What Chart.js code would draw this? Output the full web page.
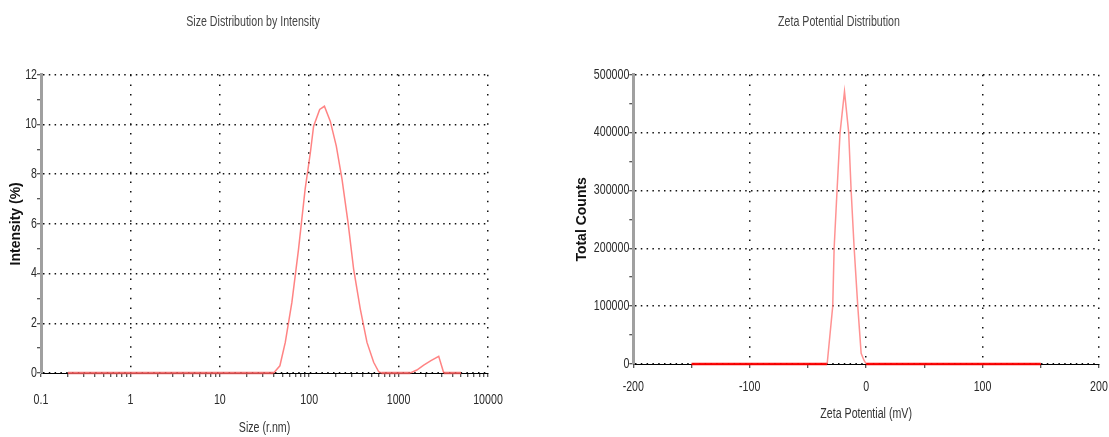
<!DOCTYPE html>
<html><head><meta charset="utf-8">
<script src="https://cdn.jsdelivr.net/npm/chart.js@4"></script>
<style>
html,body{margin:0;padding:0;background:#fff;width:1109px;height:437px;overflow:hidden}
canvas{position:absolute;top:0}
#c1{left:0}
#c2{left:569px}
</style></head><body>
<canvas id="c1" width="506" height="437"></canvas>
<canvas id="c2" width="540" height="437"></canvas>
<script>
// ---- Size distribution data ----
const sizeNm       = [0.2, 40, 47, 54, 64, 76, 90, 103, 112, 131, 148, 172, 201, 233, 272, 314, 373, 443, 526, 599, 640, 1350, 1600, 1910, 2300, 2810, 3200, 5000];
const intensityPct = [0, 0, 0.29, 1.23, 2.84, 4.98, 7.39, 8.86, 9.93, 10.6, 10.73, 10.13, 9.13, 7.79, 6.05, 4.18, 2.57, 1.23, 0.43, 0.05, 0, 0, 0.12, 0.32, 0.5, 0.67, 0, 0];
const sizeDecades    = [0.1, 1, 10, 100, 1000, 10000];
const sizeTickLabels = ['0.1', '1', '10', '100', '1000', '10000'];
const intensityTicks = [0, 2, 4, 6, 8, 10, 12];

// ---- Zeta potential data ----
const zetaMv     = [-150, -33.5, -28.7, -27.5, -25, -22.4, -18.6, -15, -12.9, -10.3, -7.2, -4.3, -2, 0, 150];
const zetaCounts = [0, 0, 100000, 200000, 300000, 400000, 471000, 400000, 300000, 200000, 100000, 18500, 7000, 0, 0];
const zetaTicks      = [-200, -100, 0, 100, 200];
const zetaTickLabels = ['-200', '-100', '0', '100', '200'];
const countTicks     = [0, 100000, 200000, 300000, 400000, 500000];

const ARIAL = "'Liberation Sans',Arial,sans-serif";
const GRID = '#111';
const SQUEEZE = 0.76; // horizontal condensing of non-bold text (narrow face look)

// Condense non-bold text horizontally on a canvas (emulates a narrow font face)
function condense(canvas, s) {
  const ctx = canvas.getContext('2d');
  const pf = CanvasRenderingContext2D.prototype;
  const narrow = c => !/bold|700/.test(c.font);
  ctx.fillText = function (t, x, y, mw) {
    if (!narrow(this)) return mw === undefined ? pf.fillText.call(this, t, x, y) : pf.fillText.call(this, t, x, y, mw);
    this.save();
    this.translate(x, y);
    this.scale(s, 1);
    if (mw === undefined) pf.fillText.call(this, t, 0, 0); else pf.fillText.call(this, t, 0, 0, mw / s);
    this.restore();
  };
  ctx.measureText = function (t) {
    const m = pf.measureText.call(this, t);
    if (!narrow(this)) return m;
    return {
      width: m.width * s,
      actualBoundingBoxAscent: m.actualBoundingBoxAscent,
      actualBoundingBoxDescent: m.actualBoundingBoxDescent,
      actualBoundingBoxLeft: m.actualBoundingBoxLeft * s,
      actualBoundingBoxRight: m.actualBoundingBoxRight * s
    };
  };
}

function near(a, b) { return Math.abs(a - b) < 1e-9 * Math.max(1, Math.abs(b)); }

// Centre the title over the whole canvas
const titleCentre = {
  id: 'titleCentre',
  afterLayout(chart) {
    if (chart.titleBlock) { chart.titleBlock.left = 0; chart.titleBlock.right = chart.width; }
  }
};

function noEdgePadding(s) { s.paddingLeft = 0; s.paddingRight = 0; s.paddingTop = 0; s.paddingBottom = 0; }

function lineDataset(xs, ys, baseColor, curveColor) {
  return {
    data: xs.map((x, i) => ({x: x, y: ys[i]})),
    borderColor: curveColor,
    borderWidth: 1.5,
    pointRadius: 0,
    tension: 0,
    clip: false,
    segment: {
      borderColor: c => (c.p0.parsed.y === 0 && c.p1.parsed.y === 0) ? baseColor : curveColor,
      borderWidth: c => (c.p0.parsed.y === 0 && c.p1.parsed.y === 0) ? 2.5 : 1.5
    }
  };
}

const c1 = document.getElementById('c1');
const c2 = document.getElementById('c2');
condense(c1, SQUEEZE);
condense(c2, SQUEEZE);

// ---------- Chart 1 ----------
new Chart(c1, {
  type: 'line',
  plugins: [titleCentre],
  data: { datasets: [lineDataset(sizeNm, intensityPct, 'rgba(240,90,90,0.85)', 'rgba(255,100,100,0.8)')] },
  options: {
    responsive: false, animation: false, devicePixelRatio: 1,
    layout: { padding: { left: 0, right: 18, top: 0, bottom: 0 } },
    plugins: {
      legend: { display: false }, tooltip: { enabled: false },
      title: { display: true, text: 'Size Distribution by Intensity', color: '#444',
        font: { family: ARIAL, size: 14, weight: 'normal', lineHeight: 1.2 }, padding: { top: 13.6, bottom: 44.3 } }
    },
    scales: {
      x: {
        type: 'logarithmic', min: 0.1, max: 10000, z: 1,
        afterBuildTicks: s => {
          const t = [];
          for (let d = 0; d < sizeDecades.length - 1; d++)
            for (let k = 1; k <= 9; k++) t.push({ value: sizeDecades[d] * k });
          t.push({ value: sizeDecades[sizeDecades.length - 1] });
          s.ticks = t;
        },
        afterFit: s => { s.height = 64; noEdgePadding(s); },
        ticks: {
          autoSkip: false, maxRotation: 0, minRotation: 0, padding: 15, color: '#2a2a2a',
          font: { family: ARIAL, size: 14 },
          callback: v => { const i = sizeDecades.findIndex(d => near(v, d)); return i >= 0 ? sizeTickLabels[i] : ''; }
        },
        grid: {
          color: c => (c.tick && sizeDecades.some(d => near(c.tick.value, d))) ? GRID : 'rgba(0,0,0,0)',
          lineWidth: 1.5, tickColor: '#222', tickLength: 4, tickWidth: 1
        },
        border: { color: '#000', width: 1, dash: [1.5, 8.2] },
        title: { display: true, text: 'Size (r.nm)', color: '#333', font: { family: ARIAL, size: 14 }, padding: { top: 0, bottom: 0.6 } }
      },
      y: {
        min: 0, max: 12,
        afterFit: s => { s.width = 41; noEdgePadding(s); },
        ticks: {
          stepSize: 1, autoSkip: false, padding: 0, color: '#2a2a2a',
          font: { family: ARIAL, size: 14 },
          callback: v => intensityTicks.includes(v) ? String(v) : ''
        },
        grid: {
          color: c => (c.tick && intensityTicks.includes(c.tick.value)) ? GRID : 'rgba(0,0,0,0)',
          lineWidth: 1.5, tickColor: '#222', tickLength: 4, tickWidth: 1
        },
        border: { color: '#a0a0a0', width: 3, dash: [1.5, 4.3] },
        title: { display: true, text: 'Intensity (%)', color: '#111', font: { family: ARIAL, size: 14, weight: 'bold' }, padding: { top: 8 } }
      }
    }
  }
});

// ---------- Chart 2 ----------
new Chart(c2, {
  type: 'line',
  plugins: [titleCentre],
  data: { datasets: [lineDataset(zetaMv, zetaCounts, 'rgba(255,0,0,0.95)', 'rgba(255,110,110,0.75)')] },
  options: {
    responsive: false, animation: false, devicePixelRatio: 1,
    layout: { padding: { left: 0, right: 10, top: 0, bottom: 0 } },
    plugins: {
      legend: { display: false }, tooltip: { enabled: false },
      title: { display: true, text: 'Zeta Potential Distribution', color: '#444',
        font: { family: ARIAL, size: 14, weight: 'normal', lineHeight: 1.2 }, padding: { top: 13.6, bottom: 44.3 } }
    },
    scales: {
      x: {
        type: 'linear', min: -200, max: 200, z: 1,
        afterFit: s => { s.height = 73; noEdgePadding(s); },
        ticks: {
          stepSize: 50, autoSkip: false, maxRotation: 0, minRotation: 0, padding: 11, color: '#2a2a2a',
          font: { family: ARIAL, size: 14 },
          callback: v => { const i = zetaTicks.indexOf(v); return i >= 0 ? zetaTickLabels[i] : ''; }
        },
        grid: {
          color: c => (c.tick && zetaTicks.includes(c.tick.value)) ? GRID : 'rgba(0,0,0,0)',
          lineWidth: 1.5, tickColor: '#222', tickLength: 4, tickWidth: 1
        },
        border: { color: '#000', width: 1, dash: [1.5, 8.2] },
        title: { display: true, text: 'Zeta Potential (mV)', color: '#333', font: { family: ARIAL, size: 14 }, padding: { top: 0, bottom: 14.6 } }
      },
      y: {
        min: 0, max: 500000,
        afterFit: s => { s.width = 64.3; noEdgePadding(s); },
        ticks: {
          stepSize: 50000, autoSkip: false, padding: 0, color: '#2a2a2a',
          font: { family: ARIAL, size: 14 },
          callback: v => countTicks.includes(v) ? String(v) : ''
        },
        grid: {
          color: c => (c.tick && countTicks.includes(c.tick.value)) ? GRID : 'rgba(0,0,0,0)',
          lineWidth: 1.5, tickColor: '#222', tickLength: 4, tickWidth: 1
        },
        border: { color: '#a0a0a0', width: 3, dash: [1.5, 4.3] },
        title: { display: true, text: 'Total Counts', color: '#111', font: { family: ARIAL, size: 14, weight: 'bold' }, padding: { top: 5 } }
      }
    }
  }
});
</script>
</body></html>
